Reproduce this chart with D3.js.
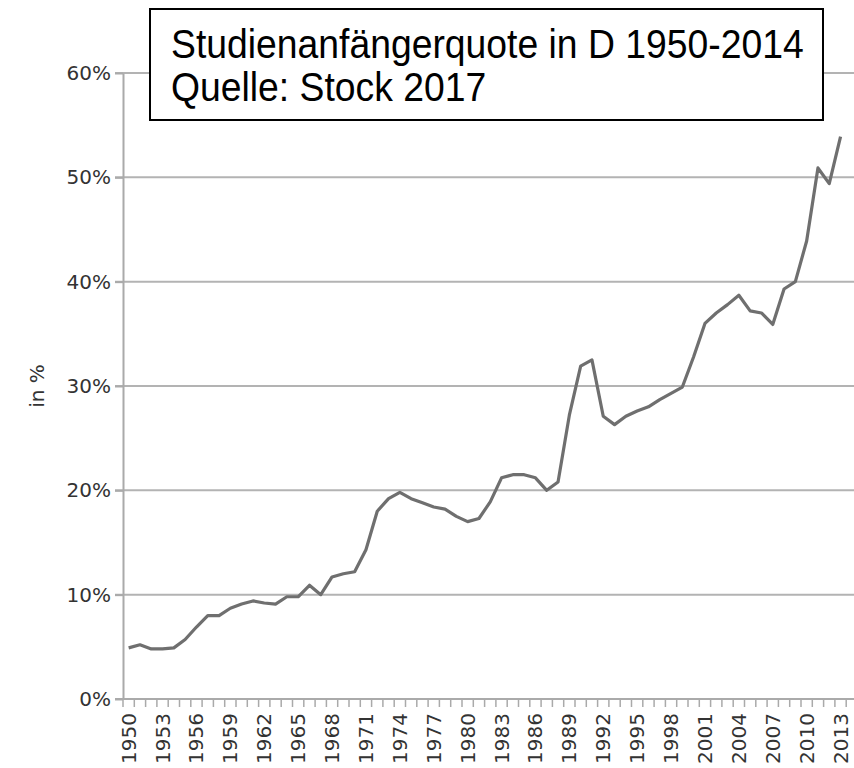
<!DOCTYPE html>
<html>
<head>
<meta charset="utf-8">
<script src="https://cdn.jsdelivr.net/npm/d3@7"></script>
<style>
  body { margin: 0; background: #fff; }
  svg { display: block; }
</style>
</head>
<body>
<svg id="chartSVG"></svg>
<script>
var chartWidth = 854
var chartHeight = 768
var plotLeft = 123
var plotRight = 854
var plotTop = 73
var plotBottom = 699

// Studienanfängerquote, 1950-2013
var years = d3.range(1950, 2014)
var quoteValues = [
    4.9, 5.2, 4.8, 4.8, 4.9, 5.7, 6.9, 8.0, 8.0, 8.7,
    9.1, 9.4, 9.2, 9.1, 9.8, 9.8, 10.9, 10.0, 11.7, 12.0,
    12.2, 14.3, 18.0, 19.2, 19.8, 19.2, 18.8, 18.4, 18.2, 17.5,
    17.0, 17.3, 18.9, 21.2, 21.5, 21.5, 21.2, 20.0, 20.8, 27.2,
    31.9, 32.5, 27.1, 26.3, 27.1, 27.6, 28.0, 28.7, 29.3, 29.9,
    32.8, 36.0, 37.0, 37.8, 38.7, 37.2, 37.0, 35.9, 39.3, 40.0,
    43.9, 50.9, 49.4, 53.9
]
var yTickValues = [0, 10, 20, 30, 40, 50, 60]
var xLabelYears = d3.range(1950, 2014, 3)
var titleLines = ['Studienanfängerquote in D 1950-2014', 'Quelle: Stock 2017']
var yAxisTitle = 'in %'

var axisFont = '"DejaVu Sans", sans-serif'
var axisTextColor = '#333333'

var svg = d3.select('#chartSVG')
    .attr('width', chartWidth)
    .attr('height', chartHeight)

var xScale = d3.scaleBand().domain(years).range([plotLeft, plotLeft + years.length * 11.3]).padding(0)
var yScale = d3.scaleLinear().domain([0, 60]).range([plotBottom, plotTop])

// gridlines
svg.append('g').selectAll('line')
    .data(yTickValues.filter(function (d) { return d > 0 }))
    .enter()
    .append('line')
    .attr('x1', plotLeft - 8)
    .attr('x2', plotRight)
    .attr('y1', function (d) { return yScale(d) })
    .attr('y2', function (d) { return yScale(d) })
    .attr('stroke', '#b3b3b3')
    .attr('stroke-width', 2)

// y axis
var yAxis = d3.axisLeft(yScale)
    .tickValues(yTickValues)
    .tickSize(8)
    .tickSizeOuter(0)
    .tickPadding(4)
    .tickFormat(function (d) { return d + '%' })
var yAxisG = svg.append('g')
    .attr('transform', 'translate(' + plotLeft + ',0)')
    .call(yAxis)
yAxisG.select('.domain').attr('stroke', '#aaaaaa').attr('stroke-width', 2)
yAxisG.selectAll('.tick line').attr('stroke', '#aaaaaa').attr('stroke-width', 2)
yAxisG.selectAll('.tick text')
    .attr('fill', axisTextColor)
    .style('font-family', axisFont)
    .style('font-size', '20px')

// x axis baseline
svg.append('line')
    .attr('x1', plotLeft - 8)
    .attr('x2', plotRight)
    .attr('y1', plotBottom)
    .attr('y2', plotBottom)
    .attr('stroke', '#aaaaaa')
    .attr('stroke-width', 2)

// small ticks at category boundaries
svg.append('g').selectAll('line')
    .data(years.concat([2014]))
    .enter()
    .append('line')
    .attr('x1', function (d) { return d < 2014 ? xScale(d) : xScale(2013) + xScale.bandwidth() })
    .attr('x2', function (d) { return d < 2014 ? xScale(d) : xScale(2013) + xScale.bandwidth() })
    .attr('y1', plotBottom)
    .attr('y2', plotBottom + 8)
    .attr('stroke', '#aaaaaa')
    .attr('stroke-width', 1.5)

// x labels every three years
var xAxis = d3.axisBottom(xScale)
    .tickValues(xLabelYears)
    .tickSize(0)
var xAxisG = svg.append('g')
    .attr('transform', 'translate(0,' + plotBottom + ')')
    .call(xAxis)
xAxisG.select('.domain').remove()
xAxisG.selectAll('.tick text')
    .attr('transform', 'rotate(-90)')
    .attr('x', -14)
    .attr('y', 0)
    .attr('dy', '0.35em')
    .attr('text-anchor', 'end')
    .attr('fill', axisTextColor)
    .style('font-family', axisFont)
    .style('font-size', '20px')

// y axis title
svg.append('text')
    .attr('transform', 'translate(37,' + yScale(30) + ') rotate(-90)')
    .attr('text-anchor', 'middle')
    .attr('dy', '0.35em')
    .attr('fill', axisTextColor)
    .style('font-family', axisFont)
    .style('font-size', '20px')
    .text(yAxisTitle)

// series line
var line = d3.line()
    .x(function (d, i) { return xScale(years[i]) + xScale.bandwidth() / 2 })
    .y(function (d) { return yScale(d) })
svg.append('path')
    .datum(quoteValues)
    .attr('d', line)
    .attr('fill', 'none')
    .attr('stroke', '#6f6f6f')
    .attr('stroke-width', 3.2)
    .attr('stroke-linejoin', 'round')

// title box
svg.append('rect')
    .attr('x', 150)
    .attr('y', 9)
    .attr('width', 673)
    .attr('height', 111)
    .attr('fill', '#ffffff')
    .attr('stroke', '#000000')
    .attr('stroke-width', 2)
var titleTexts = svg.append('g').selectAll('text')
    .data(titleLines)
    .enter()
    .append('text')
    .attr('x', 0)
    .attr('y', 0)
    .attr('fill', '#000000')
    .style('font-family', '"Liberation Sans", Arial, sans-serif')
    .style('font-size', '41px')
    .text(function (d) { return d })
// the title glyphs are narrow and tall: squeeze them horizontally to the box text width
var squeeze = 633 / titleTexts.node().getComputedTextLength()
titleTexts.attr('transform', function (d, i) {
    return 'translate(171,' + (58 + i * 43) + ') scale(' + squeeze + ',1)'
})
</script>
</body>
</html>
